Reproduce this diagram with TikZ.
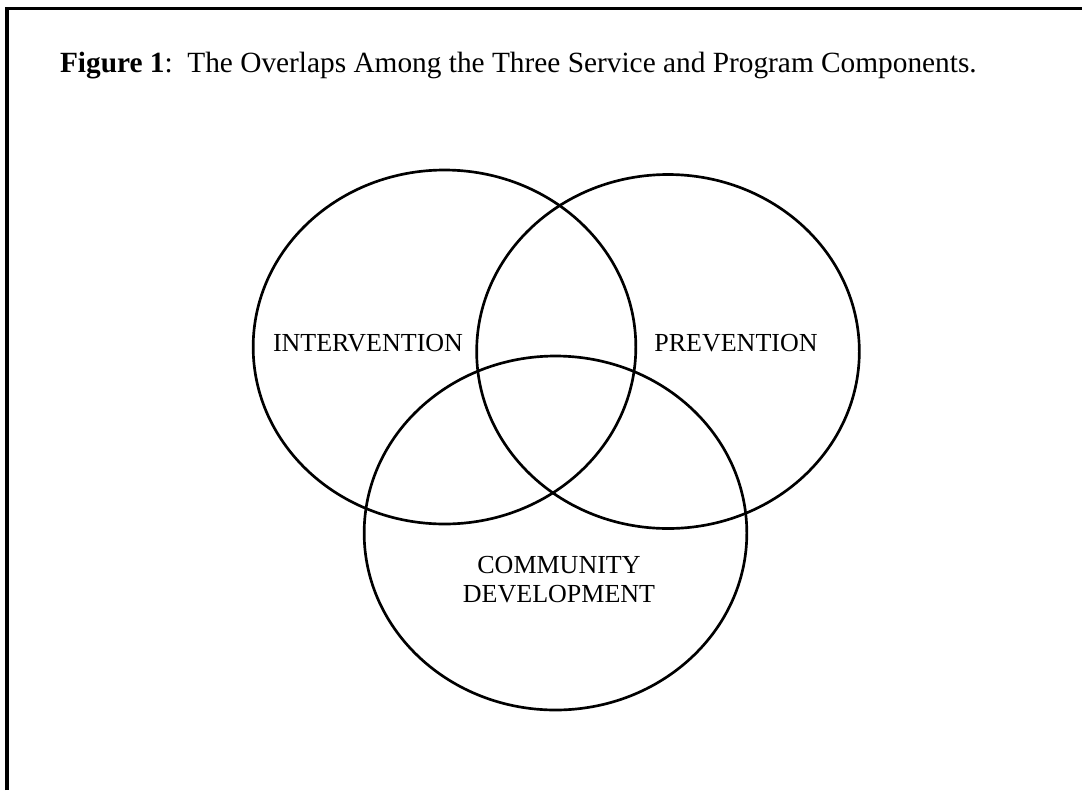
\documentclass[tikz,border=0pt]{standalone}
\usepackage{fontspec}
\setmainfont{Liberation Serif}
\usetikzlibrary{shapes.geometric}
\begin{document}
\begin{tikzpicture}[x=0.75pt,y=-0.75pt,
  setcircle/.style={draw=black, line width=2pt, ellipse, inner sep=0pt,
    minimum width=287pt, minimum height=265.5pt},
  setlabel/.style={inner sep=0pt, anchor=base, font=\fontsize{19.5pt}{22pt}\selectfont},
  frameline/.style={line width=2.6pt, line join=miter}]
\useasboundingbox (0,0) rectangle (1082,790);
\coordinate (fbl) at (7,790);
\coordinate (ftl) at (7,8.5);
\coordinate (ftr) at (1082,8.5);
\draw[frameline] (fbl) -- (ftl) -- (ftr);
\node[inner sep=0pt, anchor=base east, font=\fontsize{22pt}{26pt}\selectfont] (title) at (977,72)
  {\textbf{Figure 1}:\ \ The Overlaps Among the Three Service and Program Components.};
\node[setcircle] (inter) at (444.5,347) {};
\node[setcircle] (prev) at (668,351.5) {};
\node[setcircle] (comm) at (555.5,533) {};
\node[setlabel] (lint) at (368,351) {INTERVENTION};
\node[setlabel] (lprev) at (736,351) {PREVENTION};
\node[setlabel] (lcomm1) at (559,573) {COMMUNITY};
\node[setlabel] (lcomm2) at (559,602) {DEVELOPMENT};
\end{tikzpicture}
\end{document}
